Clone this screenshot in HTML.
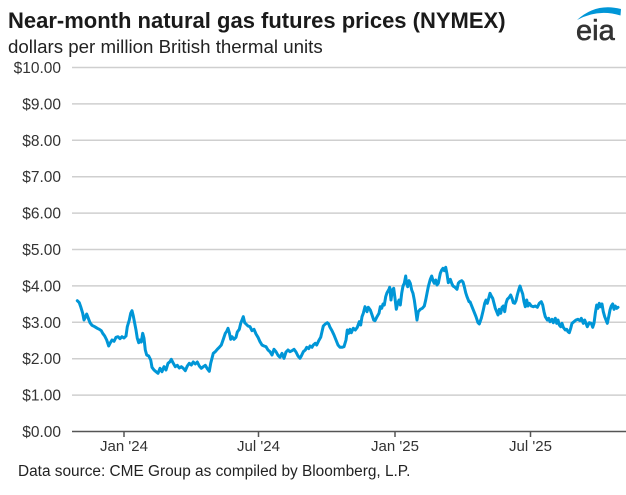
<!DOCTYPE html>
<html>
<head>
<meta charset="utf-8">
<style>
html,body{margin:0;padding:0;background:#fff;}
svg{display:block;}
text{font-family:"Liberation Sans",Arial,sans-serif;}
</style>
</head>
<body>
<svg width="626" height="495" viewBox="0 0 626 495" xmlns="http://www.w3.org/2000/svg">
<rect width="626" height="495" fill="#fff"/>
<text x="8" y="28" font-size="22" font-weight="bold" fill="#1a1a1a">Near-month natural gas futures prices (NYMEX)</text>
<text x="8" y="53" font-size="18.7" fill="#222">dollars per million British thermal units</text>
<!-- logo -->
<path d="M577,20 Q596,2.5 621,9 L620.5,15.5 Q598,8.5 577,20 Z" fill="#0096d7"/>
<text x="576" y="40" font-size="29" fill="#333" stroke="#333" stroke-width="0.6">eia</text>
<!-- gridlines -->
<g stroke="#cfcfcf" stroke-width="1.5">
<line x1="72" y1="67.5" x2="626" y2="67.5"/>
<line x1="72" y1="103.9" x2="626" y2="103.9"/>
<line x1="72" y1="140.3" x2="626" y2="140.3"/>
<line x1="72" y1="176.7" x2="626" y2="176.7"/>
<line x1="72" y1="213.1" x2="626" y2="213.1"/>
<line x1="72" y1="249.5" x2="626" y2="249.5"/>
<line x1="72" y1="285.9" x2="626" y2="285.9"/>
<line x1="72" y1="322.3" x2="626" y2="322.3"/>
<line x1="72" y1="358.7" x2="626" y2="358.7"/>
<line x1="72" y1="395.1" x2="626" y2="395.1"/>
</g>
<line x1="72" y1="431.5" x2="626" y2="431.5" stroke="#555" stroke-width="1.5"/>
<g stroke="#555" stroke-width="1.5">
<line x1="124" y1="431.5" x2="124" y2="437"/>
<line x1="258.5" y1="431.5" x2="258.5" y2="437"/>
<line x1="395" y1="431.5" x2="395" y2="437"/>
<line x1="530.5" y1="431.5" x2="530.5" y2="437"/>
</g>
<g font-size="15.5" fill="#333" text-anchor="end">
<text x="61" y="73">$10.00</text>
<text x="61" y="109.4">$9.00</text>
<text x="61" y="145.8">$8.00</text>
<text x="61" y="182.2">$7.00</text>
<text x="61" y="218.6">$6.00</text>
<text x="61" y="255">$5.00</text>
<text x="61" y="291.4">$4.00</text>
<text x="61" y="327.8">$3.00</text>
<text x="61" y="364.2">$2.00</text>
<text x="61" y="400.6">$1.00</text>
<text x="61" y="437">$0.00</text>
</g>
<g font-size="15" fill="#333" text-anchor="middle">
<text x="124" y="451">Jan '24</text>
<text x="258.5" y="451">Jul '24</text>
<text x="395" y="451">Jan '25</text>
<text x="530.5" y="451">Jul '25</text>
</g>
<text x="18" y="476" font-size="15.4" fill="#222">Data source: CME Group as compiled by Bloomberg, L.P.</text>
<polyline fill="none" stroke="#0096d7" stroke-width="3" stroke-linejoin="round" stroke-linecap="round" points="
77.3,300.7 79.3,302.7 80.7,306.7 82.7,313.3 84,320 85.3,317.3 86.7,314 88.7,319.3 90,322.7 92,325.3 94.7,326.7 97.3,328.3 99.3,329.3 101.3,330.7 102.7,333.3 104.7,336 106.7,340 108.7,346 110,343.3 112,340 114,341.3 116,337.3 118,336.7 120,338.7 122,336.7 124,338 126,336 127.3,326.7 129.3,320 130.7,313.3 132,310.7 133.3,316 134.7,323.3 136,330 137.3,338.3 138.7,342.7 140,340 141.3,342 142.7,333.3 144,338.3 145.3,350 146.7,355 148.7,356 150.7,360 152,367.3 154,370 156,371.7 158,373.3
160,368.3 162,371.7 164,366.7 166,370 168,363.3 170,361.7 171.3,359.3 173.3,363.3 175.3,366.7 177.3,365.3 179.3,368 181.3,366.7 183.3,368.3 185.3,370.7 187.3,366 189.3,363.3 191.3,365 193.3,362 195.3,364 197.3,362 199.3,366 201.3,368.3 203.3,366.7 205.3,365.3 207.3,368.7 209.3,371.3 210.7,363.3 212,358.3 213.3,353.3 215.3,351.7 217.3,349.3 219.3,347.3 221.3,345 223.3,339.3 225.3,333.3 226.7,331.3 228,328.3 229.3,332.7 230.7,339.3 232,336.7 234,339.3 236,337.3 237.3,332 239.3,329.3 240.7,323.3 242,320 243.3,316.7 244.7,322.7 246,324 248,326 250,326.7 252,330.7 254,329.3 256,334 258,337.3
260,341.7 262,345 264,346 266,346.7 268,350 270,351.7 272,355 274,349.3 276,351.7 278,355.3 280,357.3 282,353.3 284,358.3 286,352 288,350 290,351.7 292,350.7 294,349.3 296,352 298,356 300,358.3 301.3,356 303.3,351.7 305.3,350 306.7,347.3 308.7,348.7 310,346 312,347.3 313.3,345 315.3,343.3 316.7,345 318.7,340.7 320.7,337.3 322,331.7 323.3,326 325.3,324 327.3,322.7 328.7,324 330,327.3 332,330.7 334,335 336,340 338,345 340,347.3 342,347.3 344,346.7 346,340 347.3,330 348.7,333.3 350,329.3 351.3,332.7 353.3,328.3 355.3,330 357.3,327.3 359.3,321.7 360.7,325 362,316.7 363.3,313.3
365,306.7 367,311.7 368.3,307.3 370.3,310 371.7,314 373.7,320 375,320.7 377,316.7 379,313.3 380.3,306.7 381.7,308.3 383,304 384.3,305 385.7,296.7 387,292.7 389,289.3 389.7,287.3 391,300 392.3,290 393.7,288.3 395,298.3 396.3,309.3 397.7,303.3 399,300 400.3,305 401.7,293.3 403,286 404.3,283.3 405.7,276 406.3,281.7 407.7,286.7 409,280.7 410.3,283.3 411.7,290 413,293.3 414.3,300 415.7,310 417,320 418.3,311.7 420.3,309.3 422.3,308.3 424.3,306 425.7,300 427,293.3 428.3,286.7 430.3,279.3 431.7,276 433,280.7 434.3,283.3 435.7,280 437,285 438.3,283.3 440.3,273.3 441.7,270 443,268.3 444.3,270.7 445.7,267.3 447,274 448.3,282.7 450.3,279.3 451.7,283.3 453,286 455,287.3 457,289.3 458.3,283.3 459.7,281.7 461.7,280.7 463,282 464.3,286.7 465.7,292.7 467,296.7 469,301.7
470,301.7 472,306.7 474,311.7 476,316.7 478,322.7 479.3,324 481.3,318.3 483.3,310 484.7,303.3 486,300 487.3,303.3 488.7,298.3 490,293.3 491.3,296 492.7,298.3 494,303.3 495.3,308.3 496.7,311.7 498,315 499.3,309.3 500.7,313.3 502,307.3 503.3,306 504.7,311.7 506,303.3 507.3,299.3 509.3,297.3 510.7,295 512,298.3 513.3,302.7 514.7,303.3 516,300.7 517.3,295 518.7,290 520,286 521.3,290 522.7,294 524,301.7 525.3,306.7 526.7,300 528,306 529.3,303.3 531.3,306 533.3,306.7 535.3,306 537.3,307.3 539.3,303.3 541.3,301.7 542.7,305 544,311.7 545.3,316.7 547.3,320 548.7,318.3 550,321.7 552,319.3 553.3,322.7 555.3,318.3 556.7,323.3 558,320 559.3,325 560.7,326.7 562,323.3 563.3,327.3 565.3,330 566.7,329.3 568,331.7 569.3,332.7 570.7,328.3 572,323.3 574,321.7 576,320 578,319.3 580,320.7 581.3,318.3 583.3,323.3 584.7,320 586,323.3 587.3,326.7 589.3,322.7 591.3,323.3 592.7,327.3 594,323.3 595.3,313.3 596.7,305 598,308.3 599.3,303.3 600.7,306.7 602,304 603.3,311.7 604.7,316.7 606,320 607.3,323.3 608.7,316.7 610,310 611.3,306 612.7,304 614,309.3 615.3,306 616.7,308.3 618,307.3"/>
</svg>
</body>
</html>
